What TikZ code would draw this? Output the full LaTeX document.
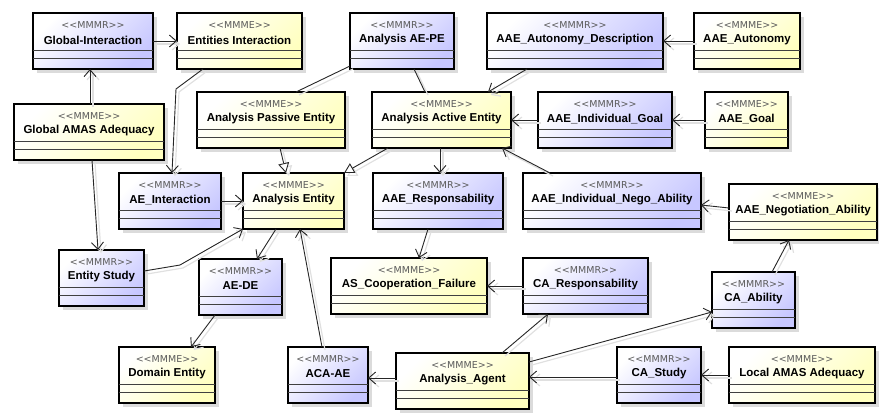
\documentclass[tikz,border=0pt]{standalone}
\usepackage{fontspec}
\setmainfont{Liberation Sans}
\newfontfamily\stfont{DejaVu Sans}
\usetikzlibrary{arrows.meta,calc,shadows}
\tikzset{
  boxbase/.style={draw=black, line width=2.2pt, inner sep=0pt, outer sep=0pt,
    minimum height=56pt,
    drop shadow={shadow xshift=4pt, shadow yshift=-4pt, fill=black!14, opacity=1}},
  mmmr/.style={boxbase, top color=white, bottom color=blue!22, shading angle=45},
  mmme/.style={boxbase, top color=white, bottom color=yellow!25, shading angle=45},
  comp/.style={draw=black!75, line width=0.9pt},
  stereo/.style={font=\stfont\fontsize{9.5}{11}\selectfont, text=black!65, inner sep=0pt},
  title/.style={font=\fontsize{11.5}{13}\selectfont\bfseries, inner sep=0pt},
  cshadow/.style={preaction={draw=black!12, line width=1.2pt, transform canvas={shift={(3pt,-3pt)}}}},
  assoc/.style={draw=black!85, line width=0.9pt, cshadow, -{Straight Barb[length=7pt,width=12pt]}},
  plainln/.style={draw=black!85, line width=0.9pt, cshadow},
  gen/.style={draw=black!85, line width=0.9pt, cshadow, -{Triangle[length=10pt,width=11pt,fill=white]}}
}
\newcommand\umlbox[7]{%
  \node[#5, minimum width=#4pt, anchor=north west] (#1) at (#2,#3) {};
  \draw[comp] ([yshift=-37pt]#1.north west) -- ([yshift=-37pt]#1.north east);
  \draw[comp] ([yshift=-45pt]#1.north west) -- ([yshift=-45pt]#1.north east);
  \node[stereo] (#1-s) at ([yshift=-12pt]#1.north) {<{}<#6>{}>};
  \node[title] (#1-t) at ([yshift=-27pt]#1.north) {#7};
}
\begin{document}
\begin{tikzpicture}[x=1pt,y=-1pt]
\useasboundingbox (0,0) rectangle (879,413);
\umlbox{GI}{33}{13}{120}{mmmr}{MMMR}{Global-Interaction}
\umlbox{EI}{177}{13}{125}{mmme}{MMME}{Entities Interaction}
\umlbox{AEPE}{350}{13}{104}{mmmr}{MMMR}{Analysis AE-PE}
\umlbox{AAD}{487}{13}{176}{mmmr}{MMMR}{AAE\_Autonomy\_Description}
\umlbox{AA}{694}{13}{106}{mmme}{MMME}{AAE\_Autonomy}
\umlbox{GAA}{14}{104}{150}{mmme}{MMME}{Global AMAS Adequacy}
\umlbox{APE}{197}{92}{148}{mmme}{MMME}{Analysis Passive Entity}
\umlbox{AAEnt}{372}{92}{139}{mmme}{MMME}{Analysis Active Entity}
\umlbox{AIG}{538}{92}{134}{mmmr}{MMMR}{AAE\_Individual\_Goal}
\umlbox{AG}{705}{92}{83}{mmme}{MMME}{AAE\_Goal}
\umlbox{AEI}{119}{173}{102}{mmmr}{MMMR}{AE\_Interaction}
\umlbox{AE}{243}{173}{101}{mmme}{MMME}{Analysis Entity}
\umlbox{AR}{373}{173}{130}{mmmr}{MMMR}{AAE\_Responsability}
\umlbox{AINA}{523}{173}{178}{mmmr}{MMMR}{AAE\_Individual\_Nego\_Ability}
\umlbox{ANA}{729}{184}{148}{mmme}{MMME}{AAE\_Negotiation\_Ability}
\umlbox{ES}{59}{250}{85}{mmmr}{MMMR}{Entity Study}
\umlbox{AEDE}{199}{259}{83}{mmmr}{MMMR}{AE-DE}
\umlbox{ASCF}{331}{258}{156}{mmme}{MMME}{AS\_Cooperation\_Failure}
\umlbox{CAR}{523}{258}{125}{mmmr}{MMMR}{CA\_Responsability}
\umlbox{CAA}{712}{272}{83}{mmmr}{MMMR}{CA\_Ability}
\umlbox{DE}{119}{347}{96}{mmme}{MMME}{Domain Entity}
\umlbox{ACAAE}{288}{347}{80}{mmmr}{MMMR}{ACA-AE}
\umlbox{AAg}{396}{353}{133}{mmme}{MMME}{Analysis\_Agent}
\umlbox{CAS}{617}{347}{84}{mmmr}{MMMR}{CA\_Study}
\umlbox{LAA}{729}{347}{146}{mmme}{MMME}{Local AMAS Adequacy}
% connectors
\draw[assoc] (GI.east) -- (EI.west);
\draw[assoc] ($(GAA.north west)+(76,0)$) -- ($(GI.north west)+(57,56)$);
\draw[assoc] ($(GAA.north west)+(78,56)$) -- ($(ES.north west)+(39,0)$);
\draw[assoc] ($(EI.north west)+(26,56)$) -- (176,89) -- ($(AEI.north west)+(53,0)$);
\draw[assoc] (AEI.east) -- (AE.west);
\draw[assoc] ($(ES.north west)+(85,21)$) -- (180,265) -- (AE.south west);
\draw[assoc] ($(AE.north west)+(33,56)$) -- ($(AEDE.north west)+(58,0)$);
\draw[assoc] ($(AEDE.north west)+(16,56)$) -- ($(DE.north west)+(72,0)$);
\draw[assoc] ($(ACAAE.north west)+(34,0)$) -- ($(AE.north west)+(57,56)$);
\draw[gen] ($(APE.north west)+(83,56)$) -- ($(AE.north west)+(43,0)$);
\draw[gen] ($(AAEnt.north west)+(16,56)$) -- (AE.north east);
\draw[plainln] ($(AEPE.north west)+(0,53)$) -- ($(APE.north west)+(99,0)$);
\draw[plainln] ($(AEPE.north west)+(64,56)$) -- ($(AAEnt.north west)+(53,0)$);
\draw[assoc] ($(AAD.north west)+(40,56)$) -- ($(AAEnt.north west)+(116,0)$);
\draw[assoc] (AA.west) -- (AAD.east);
\draw[assoc] (AIG.west) -- (AAEnt.east);
\draw[assoc] (AG.west) -- (AIG.east);
\draw[assoc] ($(AAEnt.north west)+(68,56)$) -- ($(AR.north west)+(67,0)$);
\draw[assoc] ($(AINA.north west)+(27,0)$) -- ($(AAEnt.north west)+(130,56)$);
\draw[assoc] ($(ANA.north west)+(0,24)$) -- ($(AINA.north west)+(178,32)$);
\draw[assoc] ($(CAA.north west)+(60,0)$) -- ($(ANA.north west)+(60,56)$);
\draw[assoc] ($(AR.north west)+(55,56)$) -- ($(ASCF.north west)+(88,0)$);
\draw[assoc] (CAR.west) -- (ASCF.east);
\draw[assoc] ($(AAg.north west)+(106,0)$) -- ($(CAR.south west)+(25,0)$);
\draw[assoc] ($(AAg.north west)+(133,9)$) -- ($(CAA.north west)+(0,40)$);
\draw[assoc] ($(AAg.north west)+(0,25)$) -- ($(ACAAE.north west)+(80,31)$);
\draw[assoc] ($(CAS.north west)+(0,30)$) -- ($(AAg.north west)+(133,24)$);
\draw[assoc] (LAA.west) -- (CAS.east);
\end{tikzpicture}
\end{document}
